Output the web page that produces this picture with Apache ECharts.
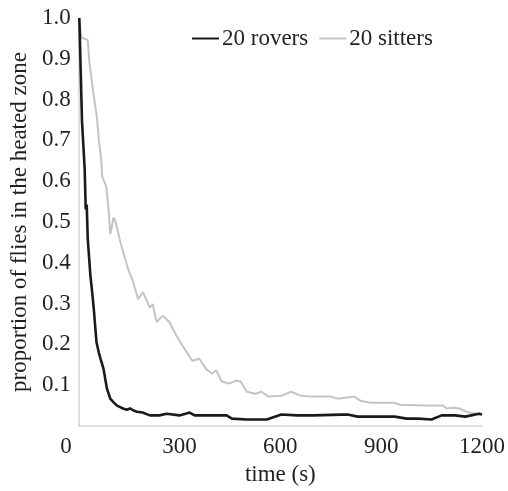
<!DOCTYPE html>
<html>
<head>
<meta charset="utf-8">
<script src="https://cdn.jsdelivr.net/npm/echarts@6/dist/echarts.min.js"></script>
<style>
  html, body { margin: 0; padding: 0; background: #fff; }
  #chart { width: 508px; height: 491px; }
</style>
</head>
<body>
<div id="chart"></div>
<script>
// ---- data ----
var xTicks = [0, 300, 600, 900, 1200];
var yTicks = [0.1, 0.2, 0.3, 0.4, 0.5, 0.6, 0.7, 0.8, 0.9, 1.0];

var roverTime = [2, 10, 18, 21, 24, 27, 29, 35, 40, 45, 53, 60, 65, 74, 84, 94, 104, 114, 122, 132, 143, 153, 163, 174, 190, 212, 240, 262, 300, 318, 330, 345, 380, 440, 456, 500, 560, 603, 650, 700, 780, 800, 830, 880, 940, 976, 1010, 1050, 1080, 1120, 1150, 1191, 1200];
var roverProp = [1.0, 0.746, 0.629, 0.531, 0.543, 0.46, 0.458, 0.368, 0.33, 0.287, 0.206, 0.18, 0.165, 0.14, 0.092, 0.067, 0.058, 0.05, 0.047, 0.043, 0.04, 0.043, 0.038, 0.035, 0.033, 0.026, 0.026, 0.03, 0.026, 0.03, 0.033, 0.026, 0.026, 0.026, 0.018, 0.016, 0.016, 0.028, 0.026, 0.026, 0.028, 0.028, 0.023, 0.023, 0.023, 0.018, 0.018, 0.016, 0.026, 0.026, 0.023, 0.03, 0.028];

var sitterTime = [1, 9, 18, 27, 32, 42, 52, 55, 60, 67, 70, 82, 89, 94, 104, 110, 124, 147, 162, 177, 191, 212, 220, 232, 250, 270, 291, 309, 338, 359, 379, 397, 409, 426, 447, 468, 482, 500, 526, 544, 565, 603, 632, 662, 691, 720, 750, 771, 800, 820, 838, 868, 938, 956, 1035, 1085, 1094, 1115, 1132, 1153, 1173, 1197];
var sitterProp = [1.0, 0.951, 0.949, 0.946, 0.892, 0.826, 0.77, 0.751, 0.702, 0.653, 0.612, 0.587, 0.531, 0.47, 0.511, 0.5, 0.451, 0.385, 0.353, 0.311, 0.328, 0.29, 0.299, 0.255, 0.27, 0.255, 0.221, 0.197, 0.16, 0.165, 0.14, 0.128, 0.136, 0.109, 0.104, 0.111, 0.109, 0.084, 0.079, 0.084, 0.072, 0.074, 0.084, 0.074, 0.072, 0.072, 0.072, 0.067, 0.07, 0.072, 0.062, 0.057, 0.057, 0.052, 0.05, 0.05, 0.043, 0.045, 0.043, 0.035, 0.031, 0.028];

var seriesNames = ['20 rovers', '20 sitters'];

function zip(a, b) { return a.map(function (v, i) { return [v, b[i]]; }); }

var FONT = '"Liberation Serif", "DejaVu Serif", serif';
var TXT = '#231f20';

var chart = echarts.init(document.getElementById('chart'), null, { renderer: 'canvas' });
chart.setOption({
  animation: false,
  backgroundColor: '#ffffff',
  textStyle: { fontFamily: FONT, color: TXT },
  grid: { left: 78, right: 22, top: 18, bottom: 63, containLabel: false },
  legend: {
    data: [
      { name: seriesNames[0], icon: 'rect', itemStyle: { color: '#1a1a1a' } },
      { name: seriesNames[1], icon: 'rect', itemStyle: { color: '#c4c4c4' } }
    ],
    left: 187, top: 22,
    itemWidth: 27, itemHeight: 2, itemGap: 11,
    textStyle: { fontFamily: FONT, fontSize: 23, color: TXT, padding: [0, 0, 0, -2] }
  },
  xAxis: {
    type: 'value', min: 0, max: 1200, interval: 300,
    name: 'time (s)', nameLocation: 'middle', nameGap: 37,
    nameTextStyle: { fontFamily: FONT, fontSize: 23, color: TXT },
    axisLine: { show: true, lineStyle: { color: '#d4d4d4', width: 1.5 } },
    axisTick: { show: false },
    splitLine: { show: false },
    axisLabel: {
      fontFamily: FONT, fontSize: 23, color: TXT, margin: 9,
      alignMinLabel: 'right',
      formatter: function (v) {
        if (xTicks.indexOf(v) < 0) return '';
        return v === 0 ? '{z|0}' : String(v);
      },
      rich: { z: { fontFamily: FONT, fontSize: 23, color: TXT, padding: [0, 7, 0, 0] } }
    }
  },
  yAxis: {
    type: 'value', min: 0, max: 1, interval: 0.1,
    name: 'proportion of flies in the heated zone', nameLocation: 'middle', nameGap: 46,
    nameTextStyle: { fontFamily: FONT, fontSize: 23, color: TXT },
    axisLine: { show: true, lineStyle: { color: '#d4d4d4', width: 1.5 } },
    axisTick: { show: false },
    splitLine: { show: false },
    axisLabel: {
      fontFamily: FONT, fontSize: 23, color: TXT, margin: 8,
      formatter: function (v) {
        var r = Math.round(v * 10) / 10;
        return yTicks.indexOf(r) < 0 ? '' : r.toFixed(1);
      }
    }
  },
  series: [
    {
      name: seriesNames[1], type: 'line', data: zip(sitterTime, sitterProp),
      showSymbol: false, symbol: 'none', z: 2,
      lineStyle: { color: '#c4c4c4', width: 2 },
      itemStyle: { color: '#c4c4c4' }
    },
    {
      name: seriesNames[0], type: 'line', data: zip(roverTime, roverProp),
      showSymbol: false, symbol: 'none', z: 3,
      lineStyle: { color: '#1a1a1a', width: 2.6 },
      itemStyle: { color: '#1a1a1a' }
    }
  ]
});
</script>
</body>
</html>
